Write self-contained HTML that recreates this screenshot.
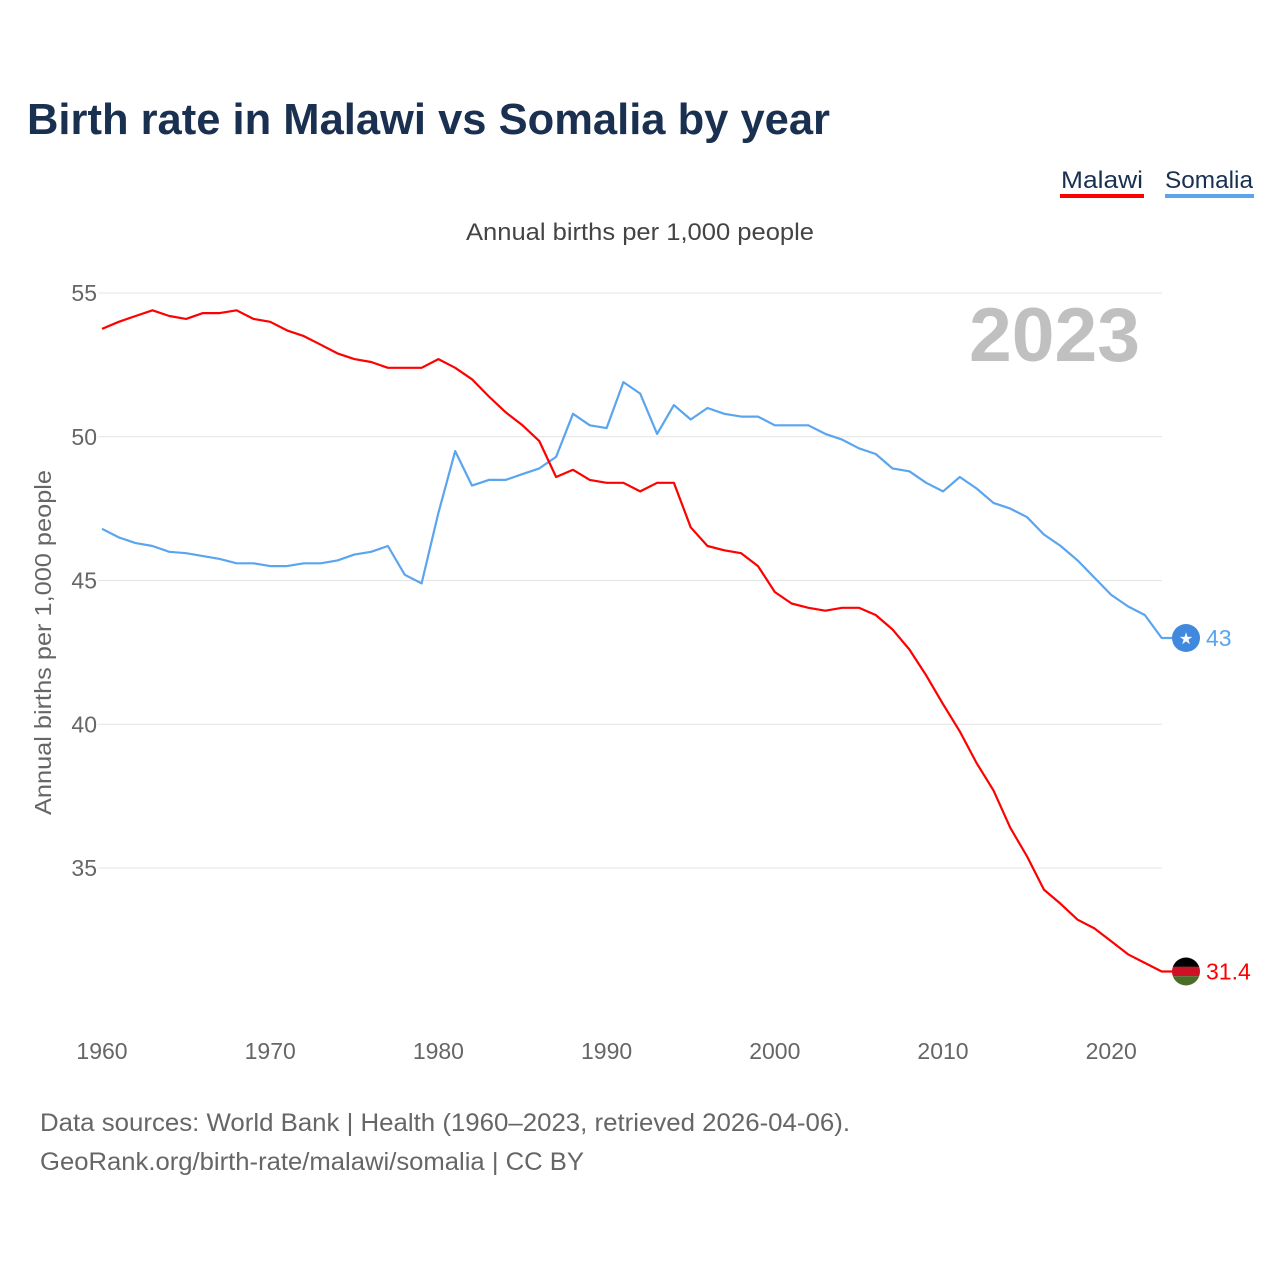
<!DOCTYPE html>
<html><head><meta charset="utf-8"><style>
body{margin:0;background:#fff;font-family:"Liberation Sans",sans-serif;}
svg text{font-family:"Liberation Sans",sans-serif;}
</style></head><body>
<svg id="chart" width="1280" height="1280" viewBox="0 0 1280 1280">
<text x="27" y="134" font-size="44" font-weight="bold" fill="#1a3050" textLength="803" lengthAdjust="spacingAndGlyphs">Birth rate in Malawi vs Somalia by year</text>
<g>
<text x="1061" y="188" font-size="24" fill="#1a3050" textLength="82" lengthAdjust="spacingAndGlyphs">Malawi</text>
<rect x="1060" y="194" width="84" height="4" fill="#ff0000"/>
<text x="1165" y="188" font-size="24" fill="#1a3050" textLength="88" lengthAdjust="spacingAndGlyphs">Somalia</text>
<rect x="1165" y="194" width="89" height="4" fill="#5aa5ee"/>
</g>
<text x="466" y="240" font-size="24" fill="#444" textLength="348" lengthAdjust="spacingAndGlyphs">Annual births per 1,000 people</text>
<text x="1140" y="361" font-size="76" font-weight="bold" fill="#c0c0c0" text-anchor="end" textLength="171" lengthAdjust="spacingAndGlyphs">2023</text>
<text transform="translate(51,815) rotate(-90)" font-size="23" fill="#666" textLength="345" lengthAdjust="spacingAndGlyphs">Annual births per 1,000 people</text>
<g id="grid"></g><g id="yticks"></g><g id="xticks"></g><g id="lines"></g><g id="ends"></g>
<text x="40" y="1131" font-size="25" fill="#666" textLength="810" lengthAdjust="spacingAndGlyphs">Data sources: World Bank | Health (1960–2023, retrieved 2026-04-06).</text>
<text x="40" y="1170" font-size="25" fill="#666" textLength="544" lengthAdjust="spacingAndGlyphs">GeoRank.org/birth-rate/malawi/somalia | CC BY</text>
</svg>
<script>
const years=[];for(let y=1960;y<=2023;y++)years.push(y);
const malawi=[53.75,54.0,54.2,54.4,54.2,54.1,54.3,54.3,54.4,54.1,54.0,53.7,53.5,53.2,52.9,52.7,52.6,52.4,52.4,52.4,52.7,52.4,52.0,51.4,50.85,50.4,49.85,48.6,48.85,48.5,48.4,48.4,48.1,48.4,48.4,46.85,46.2,46.05,45.95,45.5,44.6,44.2,44.05,43.95,44.05,44.05,43.8,43.3,42.6,41.7,40.7,39.75,38.65,37.7,36.4,35.4,34.25,33.75,33.2,32.9,32.45,32.0,31.7,31.4];
const somalia=[46.8,46.5,46.3,46.2,46.0,45.95,45.85,45.75,45.6,45.6,45.5,45.5,45.6,45.6,45.7,45.9,46.0,46.2,45.2,44.9,47.35,49.5,48.3,48.5,48.5,48.7,48.9,49.3,50.8,50.4,50.3,51.9,51.5,50.1,51.1,50.6,51.0,50.8,50.7,50.7,50.4,50.4,50.4,50.1,49.9,49.6,49.4,48.9,48.8,48.4,48.1,48.6,48.2,47.7,47.5,47.2,46.6,46.2,45.7,45.1,44.5,44.1,43.8,43.0];
const yTicks=[35,40,45,50,55];
const xTicks=[1960,1970,1980,1990,2000,2010,2020];
const endLabels=["31.4","43"];
const NS="http://www.w3.org/2000/svg";
const X=v=>102+(v-1960)*16.82;
const Y=v=>293+(55-v)*28.75;
function mk(tag,attrs,parent){const e=document.createElementNS(NS,tag);for(const k in attrs)e.setAttribute(k,attrs[k]);document.getElementById(parent).appendChild(e);return e;}
yTicks.forEach(t=>{
 const l=mk('line',{x1:98,x2:1162,y1:Y(t),y2:Y(t),stroke:'#e4e4e4','stroke-width':1},'grid');
 
 
 const tx=mk('text',{x:97,y:Y(t)+8,'font-size':23,fill:'#666','text-anchor':'end'},'yticks');
 tx.textContent=t;
 
 
});
xTicks.forEach(t=>{
 const tx=mk('text',{x:X(t),y:1059,'font-size':23,fill:'#666','text-anchor':'middle'},'xticks');
 tx.textContent=t;
 
 
});
function line(arr,color,name){
 const d=arr.map((v,i)=>(i?'L':'M')+X(years[i]).toFixed(1)+','+Y(v).toFixed(1)).join(' ')+' L'+(X(2023)+11)+','+Y(arr[arr.length-1]).toFixed(1);
 const p=mk('path',{d:d,fill:'none',stroke:color,'stroke-width':2.2,'stroke-linejoin':'round'},'lines');
 
 
}
line(somalia,'#5aa5ee','line-somalia');
line(malawi,'#ff0000','line-malawi');
const cx=1186;
const my=Y(malawi[malawi.length-1]);
const g1=mk('g',{},'ends');


const cp=mk('clipPath',{id:'mc'},'ends');mk('circle',{cx:cx,cy:my,r:14},'ends');
cp.appendChild(document.getElementById('ends').lastChild);
const mg=document.createElementNS(NS,'g');mg.setAttribute('clip-path','url(#mc)');g1.appendChild(mg);
[['#000',-14],['#ce1126',-4.7],['#4a6e2a',4.7]].forEach(([c,o])=>{const r=document.createElementNS(NS,'rect');r.setAttribute('x',cx-14);r.setAttribute('y',my+o);r.setAttribute('width',28);r.setAttribute('height',9.4);r.setAttribute('fill',c);mg.appendChild(r);});
const ml=mk('text',{x:1206,y:my+8,'font-size':23,fill:'#ff0000'},'ends');ml.textContent=endLabels[0];


const sy=Y(somalia[somalia.length-1]);
const sc=mk('circle',{cx:cx,cy:sy,r:14,fill:'#4189dd'},'ends');


const st=mk('text',{x:cx,y:sy+6,'font-size':16,fill:'#fff','text-anchor':'middle'},'ends');st.textContent='★';
const sl=mk('text',{x:1206,y:sy+8,'font-size':23,fill:'#5aa5ee'},'ends');sl.textContent=endLabels[1];


</script>
</body></html>
